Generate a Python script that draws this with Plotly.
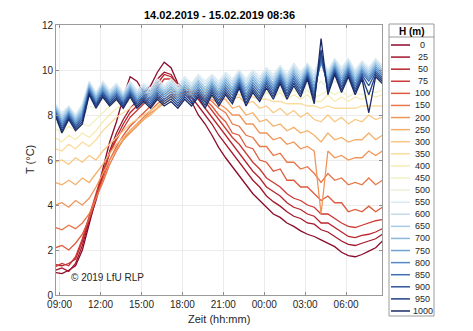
import plotly.graph_objects as go
import pandas as pd

# ---------------- data ----------------
START = "2019-02-14 08:40"
N_POINTS = 49
STEP = "30min"
TIMES = pd.date_range(START, periods=N_POINTS, freq=STEP)

HEIGHTS = [0, 25, 50, 75, 100, 150, 200, 250, 300, 350, 400, 450, 500,
           550, 600, 650, 700, 750, 800, 850, 900, 950, 1000]

COLORS = ["#8b0a2a", "#a3172c", "#b8242d", "#cc3a35", "#de5a3c", "#e8774a",
          "#f0955a", "#f5b06c", "#f8c883", "#fadc9e", "#f6ebb2", "#f1f2c4",
          "#e9f2da", "#dbeaf0", "#c3ddef", "#a6cbe8", "#89b8df", "#6ea2d4",
          "#5589c5", "#3f6fb2", "#2e569c", "#213f84", "#1a2a66"]

T_0 = [1.0, 0.95, 1.1, 1.3, 2.0, 3.1, 4.3, 5.6, 6.8, 7.7, 8.8, 9.7, 9.5, 9.0, 9.3, 9.9, 10.35, 10.1, 9.4, 9.1,
       8.6, 8.0, 7.6, 7.1, 6.55, 6.1, 5.7, 5.3, 4.9, 4.5, 4.2, 3.9, 3.6, 3.45, 3.2, 3.05, 2.85, 2.7, 2.6, 2.45,
       2.3, 2.15, 1.9, 1.75, 1.7, 1.8, 1.95, 2.1, 2.4]
T_25 = [1.1, 1.2, 1.05, 1.4, 2.2, 3.3, 4.2, 5.3, 6.4, 7.2, 7.8, 8.3, 8.6, 8.8, 9.1, 9.6, 9.9, 9.8, 9.3, 9.0,
        8.8, 8.4, 8.0, 7.6, 7.1, 6.7, 6.3, 5.9, 5.5, 5.1, 4.8, 4.4, 4.15, 3.95, 3.7, 3.5, 3.4, 3.2, 3.15, 2.9,
        2.8, 2.6, 2.4, 2.25, 2.2, 2.3, 2.4, 2.5, 2.7]
T_50 = [1.35, 1.3, 1.4, 1.6, 2.4, 3.4, 4.4, 5.4, 6.3, 7.0, 7.6, 8.1, 8.4, 8.7, 9.0, 9.4, 9.8, 9.7, 9.4, 9.1,
        9.0, 8.7, 8.3, 7.9, 7.5, 7.1, 6.7, 6.3, 5.9, 5.5, 5.2, 4.8, 4.6, 4.4, 4.1, 3.9, 3.8, 3.6, 3.5, 3.2,
        3.2, 3.0, 2.8, 2.6, 2.55, 2.65, 2.7, 2.8, 2.95]
T_75 = [1.25, 1.4, 1.3, 1.7, 2.5, 3.5, 4.5, 5.5, 6.3, 6.9, 7.4, 7.9, 8.2, 8.5, 8.8, 9.2, 9.6, 9.6, 9.3, 9.2,
        9.1, 8.9, 8.6, 8.2, 7.8, 7.4, 7.0, 6.7, 6.3, 5.9, 5.6, 5.2, 5.0, 4.8, 4.5, 4.3, 4.2, 4.0, 3.9, 3.6,
        3.6, 3.4, 3.2, 3.05, 3.0, 3.1, 3.2, 3.3, 3.35]
T_100 = [2.1, 2.2, 2.0, 2.3, 2.7, 3.4, 4.3, 5.2, 6.0, 6.6, 7.1, 7.5, 7.8, 8.1, 8.4, 8.7, 9.0, 9.1, 9.0, 9.0,
         9.0, 8.9, 8.7, 8.4, 8.0, 7.7, 7.2, 7.1, 6.6, 6.5, 6.0, 5.9, 5.5, 5.6, 5.1, 5.1, 4.8, 4.8, 4.5, 4.2,
         4.4, 4.1, 4.1, 3.7, 3.8, 3.7, 3.95, 3.7, 3.9]
T_150 = [3.0, 2.9, 3.1, 2.95, 3.2, 3.6, 4.3, 5.0, 5.8, 6.4, 6.9, 7.3, 7.6, 7.9, 8.2, 8.5, 8.7, 8.9, 8.9, 9.0,
         9.0, 8.9, 8.8, 8.6, 8.3, 8.1, 7.6, 7.5, 7.1, 7.0, 6.6, 6.6, 6.2, 6.3, 5.9, 5.9, 5.6, 5.7, 5.4, 5.0,
         5.4, 5.1, 5.2, 4.9, 5.0, 4.9, 5.2, 4.9, 5.1]
T_200 = [4.0, 4.1, 3.9, 4.2, 4.0, 4.3, 4.8, 5.4, 6.0, 6.5, 6.9, 7.2, 7.5, 7.8, 8.1, 8.3, 8.6, 8.8, 8.8, 8.9,
         8.9, 8.9, 8.8, 8.7, 8.5, 8.3, 8.0, 8.0, 7.6, 7.6, 7.2, 7.2, 6.9, 7.0, 6.7, 6.8, 6.5, 6.6, 6.4, 3.6,
         6.4, 6.1, 6.2, 6.0, 6.1, 6.1, 6.4, 6.2, 6.4]
T_250 = [5.0, 4.9, 5.1, 4.9, 5.2, 5.0, 5.4, 5.8, 6.3, 6.7, 7.0, 7.3, 7.6, 7.8, 8.0, 8.3, 8.5, 8.7, 8.8, 8.9,
         8.9, 8.9, 8.9, 8.8, 8.7, 8.7, 8.3, 8.4, 8.0, 8.1, 7.7, 7.8, 7.5, 7.6, 7.3, 7.45, 7.2, 7.3, 7.1, 6.8,
         7.2, 6.9, 7.0, 6.8, 6.9, 6.9, 7.2, 6.9, 7.1]
T_300 = [5.9, 6.0, 5.8, 6.1, 5.9, 6.2, 6.0, 6.4, 6.7, 7.0, 7.3, 7.6, 7.8, 8.0, 8.2, 8.4, 8.6, 8.7, 8.8, 8.9,
         9.0, 9.0, 9.0, 9.0, 8.9, 9.0, 8.7, 8.8, 8.5, 8.6, 8.3, 8.4, 8.1, 8.3, 8.0, 8.2, 7.9, 8.1, 7.8, 7.7,
         8.0, 7.7, 7.9, 7.6, 7.8, 7.7, 8.0, 7.8, 7.9]
T_350 = [6.5, 6.4, 6.7, 6.5, 6.8, 6.6, 6.9, 7.3, 7.6, 7.9, 8.1, 8.3, 8.5, 8.6, 8.7, 8.8, 8.9, 9.0, 9.0, 9.1,
         9.1, 9.1, 9.1, 9.1, 9.0, 9.0, 8.9, 8.9, 8.8, 8.8, 8.7, 8.7, 8.6, 8.6, 8.5, 8.5, 8.5, 8.4, 8.4, 8.3,
         8.4, 8.3, 8.3, 8.3, 8.3, 8.4, 8.4, 8.4, 8.4]
T_400 = [7.0, 6.8, 7.1, 6.9, 7.2, 7.0, 7.3, 7.7, 8.0, 8.3, 8.5, 8.6, 8.8, 8.8, 8.9, 9.0, 9.0, 9.1, 9.1, 9.2,
         9.2, 9.3, 9.1, 9.3, 9.0, 9.2, 9.0, 9.1, 8.9, 9.1, 8.8, 9.0, 8.8, 9.0, 8.7, 8.9, 8.7, 8.9, 8.6, 8.6,
         8.9, 8.6, 8.8, 8.6, 8.8, 8.7, 8.9, 8.8, 8.9]
T_450 = [7.4, 7.2, 7.5, 7.3, 7.6, 7.5, 7.8, 8.1, 8.4, 8.6, 8.7, 8.8, 8.9, 9.0, 9.0, 9.1, 9.1, 9.2, 9.2, 9.3,
         9.3, 9.4, 9.2, 9.4, 9.1, 9.3, 9.1, 9.3, 9.0, 9.2, 9.0, 9.2, 8.9, 9.1, 8.9, 9.1, 8.9, 9.1, 8.8, 8.9,
         9.1, 8.9, 9.1, 8.8, 9.0, 8.9, 9.1, 9.0, 9.1]
T_500 = [7.7, 7.5, 7.8, 7.6, 7.9, 8.4, 8.3, 8.7, 8.6, 8.8, 8.7, 9.0, 8.8, 9.0, 8.9, 9.1, 9.0, 9.2, 9.1, 9.3,
         9.2, 9.4, 9.2, 9.4, 9.2, 9.4, 9.2, 9.4, 9.2, 9.4, 9.2, 9.4, 9.2, 9.4, 9.2, 9.4, 9.2, 9.4, 9.2, 9.5,
         9.2, 9.5, 9.3, 9.5, 9.3, 9.5, 9.3, 9.5, 9.4]
T_550 = [8.5, 8.1, 8.4, 8.0, 8.5, 9.5, 9.0, 9.5, 9.1, 9.4, 9.0, 9.5, 9.1, 9.4, 9.2, 9.6, 9.3, 9.6, 9.3, 9.7,
         9.4, 9.8, 9.5, 9.8, 9.5, 9.9, 9.6, 10.0, 9.6, 10.0, 9.7, 10.1, 9.8, 10.2, 9.8, 10.3, 9.9, 10.3, 9.9, 10.6,
         10.0, 10.5, 10.1, 10.5, 10.0, 10.4, 10.1, 10.5, 10.2]
T_600 = [8.44, 8.0, 8.33, 7.92, 8.4, 9.43, 8.92, 9.42, 9.02, 9.32, 8.92, 9.42, 9.01, 9.31, 9.1, 9.5, 9.2, 9.49,
         9.19, 9.59, 9.29, 9.69, 9.37, 9.7, 9.38, 9.79, 9.48, 9.91, 9.47, 9.89, 9.58, 10.0, 9.68, 10.11, 9.68,
         10.19, 9.78, 10.22, 9.74, 10.5, 9.88, 10.42, 9.98, 10.41, 9.88, 10.31, 10.0, 10.41, 10.11]
T_650 = [8.39, 7.9, 8.27, 7.84, 8.3, 9.37, 8.84, 9.34, 8.94, 9.24, 8.84, 9.34, 8.92, 9.22, 9.0, 9.4, 9.1, 9.38,
         9.08, 9.48, 9.18, 9.58, 9.23, 9.6, 9.26, 9.68, 9.36, 9.82, 9.33, 9.78, 9.46, 9.9, 9.56, 10.02, 9.56,
         10.08, 9.66, 10.14, 9.59, 10.4, 9.76, 10.34, 9.86, 10.32, 9.76, 10.22, 9.9, 10.32, 10.02]
T_700 = [8.33, 7.8, 8.2, 7.77, 8.2, 9.3, 8.77, 9.27, 8.87, 9.17, 8.77, 9.27, 8.83, 9.13, 8.9, 9.3, 9.0, 9.27,
         8.97, 9.37, 9.07, 9.47, 9.1, 9.5, 9.13, 9.57, 9.23, 9.73, 9.2, 9.67, 9.33, 9.8, 9.43, 9.93, 9.43,
         9.97, 9.53, 10.07, 9.43, 10.35, 9.63, 10.27, 9.73, 10.23, 9.63, 10.13, 9.8, 10.23, 9.93]
T_750 = [8.28, 7.7, 8.13, 7.69, 8.1, 9.23, 8.69, 9.19, 8.79, 9.09, 8.69, 9.19, 8.74, 9.04, 8.8, 9.2, 8.9, 9.16,
         8.86, 9.26, 8.96, 9.36, 8.97, 9.4, 9.01, 9.46, 9.11, 9.64, 9.07, 9.56, 9.21, 9.7, 9.31, 9.84, 9.31,
         9.86, 9.41, 9.99, 9.28, 10.3, 9.51, 10.19, 9.61, 10.14, 9.51, 10.04, 9.7, 10.14, 9.84]
T_800 = [8.22, 7.6, 8.07, 7.61, 8.0, 9.17, 8.61, 9.11, 8.71, 9.01, 8.61, 9.11, 8.66, 8.96, 8.7, 9.1, 8.8, 9.04,
         8.74, 9.14, 8.84, 9.24, 8.83, 9.3, 8.89, 9.34, 8.99, 9.56, 8.93, 9.44, 9.09, 9.6, 9.19, 9.76, 9.19,
         9.74, 9.29, 9.91, 9.12, 10.4, 9.39, 10.11, 9.49, 10.06, 9.39, 9.96, 9.6, 10.06, 9.76]
T_850 = [8.17, 7.5, 8.0, 7.53, 7.9, 9.1, 8.53, 9.03, 8.63, 8.93, 8.53, 9.03, 8.57, 8.87, 8.6, 9.0, 8.7, 8.93,
         8.63, 9.03, 8.73, 9.13, 8.7, 9.2, 8.77, 9.23, 8.87, 9.47, 8.8, 9.33, 8.97, 9.5, 9.07, 9.67, 9.07,
         9.63, 9.17, 9.83, 8.97, 10.5, 9.27, 10.03, 9.37, 9.97, 9.27, 9.87, 9.5, 9.97, 9.67]
T_900 = [8.11, 7.4, 7.93, 7.46, 7.8, 9.03, 8.46, 8.96, 8.56, 8.86, 8.46, 8.96, 8.48, 8.78, 8.5, 8.9, 8.6, 8.82,
         8.52, 8.92, 8.62, 9.02, 8.57, 9.1, 8.64, 9.12, 8.74, 9.38, 8.67, 9.22, 8.84, 9.4, 8.94, 9.58, 8.94,
         9.52, 9.04, 9.76, 8.81, 10.7, 9.14, 9.96, 9.24, 9.88, 9.14, 9.78, 9.3, 9.88, 9.58]
T_950 = [8.06, 7.3, 7.87, 7.38, 7.7, 8.97, 8.38, 8.88, 8.48, 8.78, 8.38, 8.88, 8.39, 8.69, 8.4, 8.8, 8.5, 8.71,
         8.41, 8.81, 8.51, 8.91, 8.43, 9.0, 8.52, 9.01, 8.62, 9.29, 8.53, 9.11, 8.72, 9.3, 8.82, 9.49, 8.82,
         9.41, 8.92, 9.68, 8.66, 10.9, 9.02, 9.88, 9.12, 9.79, 9.02, 9.69, 8.9, 9.79, 9.49]
T_1000 = [8.0, 7.2, 7.8, 7.3, 7.6, 8.9, 8.3, 8.8, 8.4, 8.7, 8.3, 8.8, 8.3, 8.6, 8.3, 8.7, 8.4, 8.6, 8.3, 8.7,
          8.4, 8.8, 8.3, 8.9, 8.4, 8.9, 8.5, 9.2, 8.4, 9.0, 8.6, 9.2, 8.7, 9.4, 8.7, 9.3, 8.8, 9.6, 8.5, 11.4,
          8.9, 9.8, 9.0, 9.7, 8.9, 9.6, 8.1, 9.7, 9.4]

SERIES = [T_0, T_25, T_50, T_75, T_100, T_150, T_200, T_250, T_300, T_350, T_400, T_450, T_500,
          T_550, T_600, T_650, T_700, T_750, T_800, T_850, T_900, T_950, T_1000]

TITLE = "14.02.2019 - 15.02.2019 08:36"
XLABEL = "Zeit (hh:mm)"
YLABEL = "T (°C)"
LEGEND_TITLE = "H (m)"
CREDIT = "© 2019 LfU RLP"

# ---------------- layout constants (pixels) ----------------
W, H = 473, 331
PL, PR, PT, PB = 56, 382, 25, 295  # plot area box
FONT = "Liberation Sans, Arial, sans-serif"
TXT = "#262626"


def px_x(px):
    return (px - PL) / (PR - PL)


def px_y(py):
    return (PB - py) / (PB - PT)


fig = go.Figure()
for h, vals, col in zip(HEIGHTS, SERIES, COLORS):
    fig.add_trace(go.Scatter(x=TIMES, y=vals, mode="lines", name=str(h),
                             line=dict(color=col, width=1.3), showlegend=False,
                             hoverinfo="skip"))

fig.update_layout(
    width=W, height=H, autosize=False,
    margin=dict(l=PL, r=W - PR, t=PT, b=H - PB, pad=0),
    paper_bgcolor="white", plot_bgcolor="white",
    font=dict(family=FONT, size=10, color=TXT),
)
fig.update_xaxes(
    type="date", range=["2019-02-14 08:44", "2019-02-15 08:38"],
    tick0="2019-02-14 09:00", dtick=3 * 3600 * 1000, tickformat="%H:%M",
    ticks="inside", ticklen=3, tickcolor="#8c8c8c",
    showgrid=True, gridcolor="#ececec", gridwidth=1,
    showline=True, linecolor="#9a9a9a", linewidth=1, mirror="ticks",
    zeroline=False, tickfont=dict(size=10, color=TXT),
)
fig.update_yaxes(
    range=[0, 12], tick0=0, dtick=2,
    ticks="inside", ticklen=3, tickcolor="#8c8c8c",
    showgrid=True, gridcolor="#ececec", gridwidth=1,
    showline=True, linecolor="#9a9a9a", linewidth=1, mirror="ticks",
    zeroline=False, tickfont=dict(size=10, color=TXT),
)

ann = []
ann.append(dict(text="<b>" + TITLE + "</b>", x=0.5, y=px_y(15), xref="paper", yref="paper",
                showarrow=False, xanchor="center", yanchor="middle",
                font=dict(size=11, color="black", family=FONT)))
ann.append(dict(text=XLABEL, x=0.5, y=px_y(319), xref="paper", yref="paper",
                showarrow=False, xanchor="center", yanchor="middle",
                font=dict(size=11, color=TXT, family=FONT)))
ann.append(dict(text=YLABEL, x=px_x(30), y=0.5, xref="paper", yref="paper",
                showarrow=False, xanchor="center", yanchor="middle", textangle=-90,
                font=dict(size=11, color=TXT, family=FONT)))
ann.append(dict(text=CREDIT, x=px_x(69), y=px_y(277), xref="paper", yref="paper",
                showarrow=False, xanchor="left", yanchor="middle",
                font=dict(size=10, color=TXT, family=FONT)))

# legend box (drawn manually to match MATLAB legend spacing)
shapes = []
LX0, LX1, LY0, LY1 = 389, 434, 24, 316
shapes.append(dict(type="rect", xref="paper", yref="paper",
                   x0=px_x(LX0), x1=px_x(LX1), y0=px_y(LY1), y1=px_y(LY0),
                   line=dict(color="#9a9a9a", width=1), fillcolor="white", layer="above"))
shapes.append(dict(type="line", xref="paper", yref="paper",
                   x0=px_x(LX0), x1=px_x(LX1), y0=px_y(37), y1=px_y(37),
                   line=dict(color="#9a9a9a", width=1), layer="above"))
ann.append(dict(text="<b>" + LEGEND_TITLE + "</b>", x=px_x((LX0 + LX1) / 2), y=px_y(31),
                xref="paper", yref="paper", showarrow=False, xanchor="center",
                yanchor="middle", font=dict(size=10, color="black", family=FONT)))
ROW0, ROWSTEP = 45, 12.09
for j, (h, col) in enumerate(zip(HEIGHTS, COLORS)):
    yy = px_y(ROW0 + ROWSTEP * j)
    shapes.append(dict(type="line", xref="paper", yref="paper",
                       x0=px_x(391), x1=px_x(410), y0=yy, y1=yy,
                       line=dict(color=col, width=1.5), layer="above"))
    ann.append(dict(text=str(h), x=px_x(422.5), y=yy, xref="paper", yref="paper",
                    showarrow=False, xanchor="center", yanchor="middle",
                    font=dict(size=9, color=TXT, family=FONT)))

fig.update_layout(annotations=ann, shapes=shapes)
fig.write_html("out.html")
